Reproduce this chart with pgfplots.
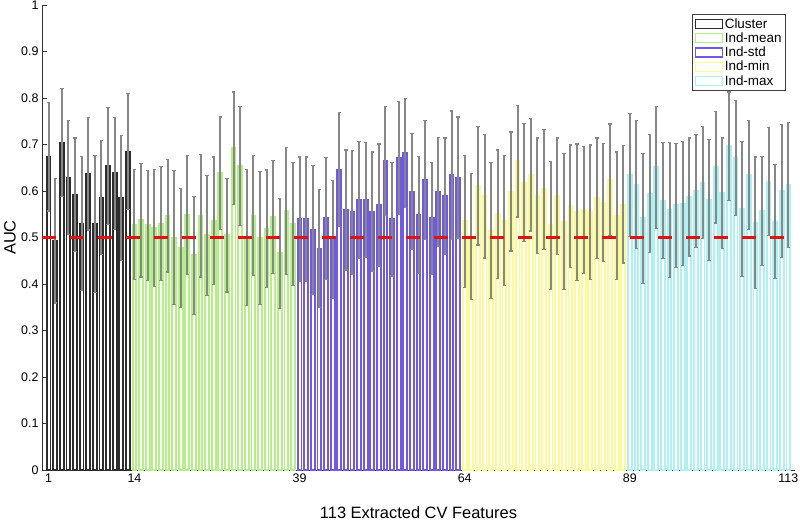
\documentclass[border=0pt]{standalone}
\usepackage{pgfplots}
\pgfplotsset{compat=1.18}
\usepackage{pgfplotstable}
\usepackage{fontspec}
\setmainfont{Liberation Sans}
\definecolor{clC}{RGB}{45,45,45}
\definecolor{meanC}{RGB}{180,240,135}
\definecolor{stdC}{RGB}{110,90,230}
\definecolor{minC}{RGB}{250,250,150}
\definecolor{maxC}{RGB}{175,240,242}
\definecolor{errC}{RGB}{135,135,135}
\definecolor{redC}{RGB}{222,20,20}

\pgfplotstableread{
x y e
1 0.674 0.117
2 0.493 0.134
3 0.704 0.116
4 0.629 0.123
5 0.592 0.122
6 0.530 0.144
7 0.637 0.121
8 0.529 0.147
9 0.586 0.123
10 0.654 0.126
11 0.638 0.120
12 0.585 0.134
13 0.685 0.124
}\tcluster

\pgfplotstableread{
x y e
14 0.528 0.118
15 0.537 0.122
16 0.526 0.118
17 0.521 0.126
18 0.530 0.123
19 0.547 0.121
20 0.500 0.144
21 0.478 0.128
22 0.548 0.128
23 0.462 0.127
24 0.547 0.132
25 0.505 0.129
26 0.536 0.137
27 0.638 0.121
28 0.505 0.122
29 0.692 0.121
30 0.653 0.128
31 0.500 0.146
32 0.547 0.129
33 0.499 0.143
34 0.519 0.126
35 0.544 0.122
36 0.466 0.118
37 0.557 0.136
38 0.529 0.132
}\tmean

\pgfplotstableread{
x y e
39 0.539 0.134
40 0.539 0.134
41 0.516 0.138
42 0.476 0.127
43 0.541 0.131
44 0.496 0.127
45 0.646 0.122
46 0.559 0.129
47 0.554 0.133
48 0.581 0.126
49 0.581 0.124
50 0.556 0.128
51 0.569 0.132
52 0.664 0.117
53 0.539 0.122
54 0.671 0.121
55 0.682 0.117
56 0.599 0.125
57 0.549 0.126
58 0.623 0.128
59 0.541 0.120
60 0.598 0.117
61 0.589 0.125
62 0.634 0.138
63 0.629 0.130
}\tstd

\pgfplotstableread{
x y e
64 0.535 0.142
65 0.502 0.136
66 0.611 0.127
67 0.589 0.133
68 0.515 0.146
69 0.550 0.138
70 0.536 0.140
71 0.599 0.128
72 0.664 0.120
73 0.618 0.127
74 0.635 0.121
75 0.590 0.124
76 0.604 0.129
77 0.526 0.138
78 0.589 0.125
79 0.534 0.146
80 0.567 0.132
81 0.554 0.147
82 0.559 0.136
83 0.554 0.145
84 0.584 0.130
85 0.575 0.127
86 0.624 0.120
87 0.547 0.137
88 0.571 0.126
}\tmin

\pgfplotstableread{
x y e
89 0.634 0.132
90 0.614 0.138
91 0.541 0.140
92 0.594 0.127
93 0.651 0.131
94 0.579 0.125
95 0.559 0.145
96 0.569 0.133
97 0.573 0.133
98 0.587 0.127
99 0.600 0.121
100 0.618 0.121
101 0.581 0.130
102 0.651 0.120
103 0.595 0.119
104 0.696 0.117
105 0.671 0.124
106 0.561 0.145
107 0.634 0.117
108 0.532 0.141
109 0.557 0.118
110 0.620 0.116
111 0.534 0.123
112 0.600 0.143
113 0.613 0.134
}\tmax

\begin{document}
\begin{tikzpicture}
\begin{axis}[
  scale only axis,
  width=753bp, height=465bp,
  xmin=0, xmax=114, ymin=0, ymax=1,
  axis x line=bottom, axis y line=left,
  axis line style={-, black!80, line width=0.6bp},
  xtick={1,14,39,64,89,113},
  ytick={0,0.1,0.2,0.3,0.4,0.5,0.6,0.7,0.8,0.9,1},
  yticklabels={0,0.1,0.2,0.3,0.4,0.5,0.6,0.7,0.8,0.9,1},
  tick align=inside,
  major tick length=5bp,
  tick style={black!80, line width=0.6bp},
  ticklabel style={font=\fontsize{12.5}{14}\selectfont},
  /pgf/number format/assume math mode=true,
  xlabel={113 Extracted CV Features},
  ylabel={AUC},
  xlabel style={font=\fontsize{16.5}{18}\selectfont, at={(axis description cs:0.5,0)}, anchor=base, yshift=-48bp},
  ylabel style={font=\fontsize{16.5}{18}\selectfont, at={(axis description cs:0,0.5)}, anchor=center, yshift=32bp},
  legend style={at={(1,1)}, anchor=north east, xshift=-9bp, yshift=-9bp,
    draw=black!75, line width=0.8bp, font=\fontsize{13.5}{14}\selectfont,
    inner sep=2bp, row sep=-1bp, /tikz/every even column/.append style={column sep=1bp}},
  legend cell align=left,
  mybar/.style={ybar, bar width=0.58, bar shift=0pt, fill=white, line width=1.9bp,
    legend image code/.code={\draw[##1, fill=white, line width=1.2bp] (0bp,-4.5bp) rectangle (27bp,4.5bp);},
    error bars/y dir=both, error bars/y explicit,
    error bars/error bar style={/tikz/draw=errC, /tikz/color=errC, /tikz/line width=2bp},
    error bars/error mark options={rotate=90, mark size=1.7bp, /tikz/draw=errC, /tikz/line width=1.2bp}},
]
\addplot[mybar, draw=clC] table[x=x, y=y, y error=e] {\tcluster};
\addlegendentry{Cluster}
\addplot[mybar, draw=meanC] table[x=x, y=y, y error=e] {\tmean};
\addlegendentry{Ind-mean}
\addplot[mybar, draw=stdC] table[x=x, y=y, y error=e] {\tstd};
\addlegendentry{Ind-std}
\addplot[mybar, draw=minC] table[x=x, y=y, y error=e] {\tmin};
\addlegendentry{Ind-min}
\addplot[mybar, draw=maxC] table[x=x, y=y, y error=e] {\tmax};
\addlegendentry{Ind-max}
\addplot[forget plot, redC, line width=3.2bp, dash pattern=on 14bp off 14bp] coordinates {(0,0.5) (113.5,0.5)};
\end{axis}
\pgfresetboundingbox
\path[use as bounding box] ([xshift=-42bp,yshift=-52bp]current axis.south west) rectangle ([xshift=5bp,yshift=5bp]current axis.north east);
\end{tikzpicture}
\end{document}
